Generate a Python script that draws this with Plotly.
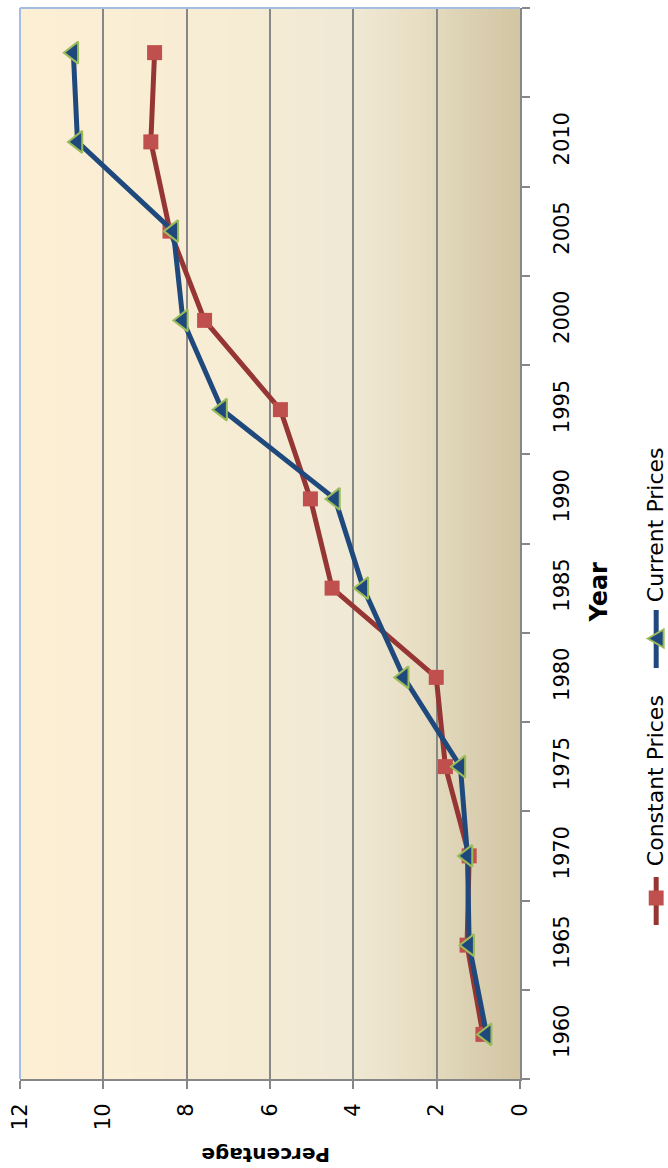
import plotly.graph_objects as go

# ---------------- data ----------------
years = [1960, 1965, 1970, 1975, 1980, 1985, 1990, 1995, 2000, 2005, 2010, 2015]
year_tick_vals = [1960, 1965, 1970, 1975, 1980, 1985, 1990, 1995, 2000, 2005, 2010]
year_tick_text = ["1960", "1965", "1970", "1975", "1980", "1985", "1990", "1995", "2000", "2005", "2010"]
constant_prices = [0.89, 1.27, 1.22, 1.79, 2.01, 4.51, 5.03, 5.75, 7.57, 8.40, 8.86, 8.77]
current_prices = [0.80, 1.22, 1.26, 1.43, 2.79, 3.76, 4.44, 7.15, 8.09, 8.32, 10.62, 10.72]
pct_ticks = [0, 2, 4, 6, 8, 10, 12]
series_names = ["Constant Prices", "Current Prices"]

# ---------------- layout constants ----------------
W, H = 668, 1168
L, R, T, B = 17, 520, 8, 1079
FONT = "DejaVu Sans"
RED_LINE, RED_MARK = "#963634", "#C0504D"
BLUE, GREEN = "#1F497D", "#9BBB59"
GRID = "#878787"


def px(xp):
    return (xp - L) / (R - L)


def py(yp):
    return (B - yp) / (B - T)


fig = go.Figure()

fig.add_trace(go.Scatter(
    x=constant_prices, y=years, mode="lines+markers", name=series_names[0],
    line=dict(color=RED_LINE, width=5),
    marker=dict(symbol="square", size=15, color=RED_MARK, line=dict(width=0)),
    showlegend=False, cliponaxis=False))
fig.add_trace(go.Scatter(
    x=current_prices, y=years, mode="lines+markers", name=series_names[1],
    line=dict(color=BLUE, width=5),
    marker=dict(symbol="triangle-left", size=19, color=BLUE, line=dict(color=GREEN, width=2)),
    showlegend=False, cliponaxis=False))

shapes = []
# background gradient (left cream -> right tan)
stops = [(0.0, (253, 239, 212)), (0.45, (246, 236, 212)), (0.65, (240, 233, 213)),
         (0.80, (231, 222, 195)), (0.90, (219, 208, 178)), (1.0, (210, 197, 161))]


def col(t):
    for i in range(len(stops) - 1):
        t0, c0 = stops[i]
        t1, c1 = stops[i + 1]
        if t0 <= t <= t1:
            f = (t - t0) / (t1 - t0)
            return "rgb(%d,%d,%d)" % tuple(round(c0[k] + (c1[k] - c0[k]) * f) for k in range(3))
    return "rgb(%d,%d,%d)" % stops[-1][1]


N = 80
for i in range(N):
    shapes.append(dict(type="rect", xref="x domain", yref="y domain",
                       x0=i / N, x1=(i + 1) / N + 0.002, y0=0, y1=1,
                       fillcolor=col((i + 0.5) / N), line=dict(width=0), layer="below"))
# light blue plot-area border (top and left)
shapes.append(dict(type="line", xref="x domain", yref="y domain", x0=0, x1=0, y0=0, y1=1,
                   line=dict(color="#A5BDE5", width=2), layer="above"))
shapes.append(dict(type="line", xref="x domain", yref="y domain", x0=0, x1=1, y0=1, y1=1,
                   line=dict(color="#A5BDE5", width=2), layer="above"))

# legend symbols (line + marker), drawn in paper space
LEG_X = 657
shapes.append(dict(type="line", xref="paper", yref="paper", x0=px(LEG_X), x1=px(LEG_X),
                   y0=py(877), y1=py(925), line=dict(color=RED_LINE, width=5)))
shapes.append(dict(type="line", xref="paper", yref="paper", x0=px(LEG_X), x1=px(LEG_X),
                   y0=py(610), y1=py(668), line=dict(color=BLUE, width=5)))
shapes.append(dict(type="rect", xref="paper", yref="paper",
                   x0=px(LEG_X - 7.5), x1=px(LEG_X + 7.5), y0=py(890.5), y1=py(905.5),
                   fillcolor=RED_MARK, line=dict(width=0)))
tri = [(LEG_X - 8.5, 638.5), (LEG_X + 7.5, 629.5), (LEG_X + 7.5, 647.5)]
tri_path = "M " + " L ".join("%.5f,%.5f" % (px(a), py(b)) for a, b in tri) + " Z"
shapes.append(dict(type="path", xref="paper", yref="paper", path=tri_path,
                   fillcolor=BLUE, line=dict(color=GREEN, width=2)))

annotations = [
    dict(text="<b>Percentage</b>", x=px(264), y=py(1155), xref="paper", yref="paper",
         showarrow=False, textangle=180, font=dict(family=FONT, size=20, color="#000"),
         xanchor="center", yanchor="middle"),
    dict(text="<b>Year</b>", x=px(599), y=py(592), xref="paper", yref="paper",
         showarrow=False, textangle=-90, font=dict(family=FONT, size=24, color="#000"),
         xanchor="center", yanchor="middle"),
    dict(text=series_names[0], x=px(656), y=py(781), xref="paper", yref="paper",
         showarrow=False, textangle=-90, font=dict(family=FONT, size=22, color="#000"),
         xanchor="center", yanchor="middle"),
    dict(text=series_names[1], x=px(656), y=py(525), xref="paper", yref="paper",
         showarrow=False, textangle=-90, font=dict(family=FONT, size=22, color="#000"),
         xanchor="center", yanchor="middle"),
]

fig.update_layout(
    width=W, height=H,
    margin=dict(l=L, r=W - R, t=T, b=H - B, pad=0),
    paper_bgcolor="white", plot_bgcolor="rgba(0,0,0,0)",
    showlegend=False,
    shapes=shapes, annotations=annotations,
    xaxis=dict(range=[12, 0], tickvals=pct_ticks, ticktext=[str(v) for v in pct_ticks],
               tickangle=-90, ticks="outside", ticklen=8, tickwidth=2, tickcolor=GRID,
               showgrid=True, gridcolor=GRID, gridwidth=1.5, zeroline=False,
               showline=True, linecolor=GRID, linewidth=2,
               tickfont=dict(family=FONT, size=21, color="#000"),
               ticklabelstandoff=6, fixedrange=True),
    yaxis=dict(range=[1957.5, 2017.5], side="right", tickvals=year_tick_vals,
               ticktext=year_tick_text, tickangle=-90, ticks="",
               minor=dict(ticks="outside", tick0=1957.5, dtick=5, ticklen=8,
                          tickwidth=2, tickcolor=GRID, showgrid=False),
               showgrid=False, zeroline=False, showline=True, linecolor=GRID, linewidth=2,
               tickfont=dict(family=FONT, size=21, color="#000"),
               ticklabelstandoff=22, fixedrange=True),
)

fig.write_html("out.html", config={"displayModeBar": False},
               post_script="document.body.style.margin='0';document.body.style.overflow='hidden';")
